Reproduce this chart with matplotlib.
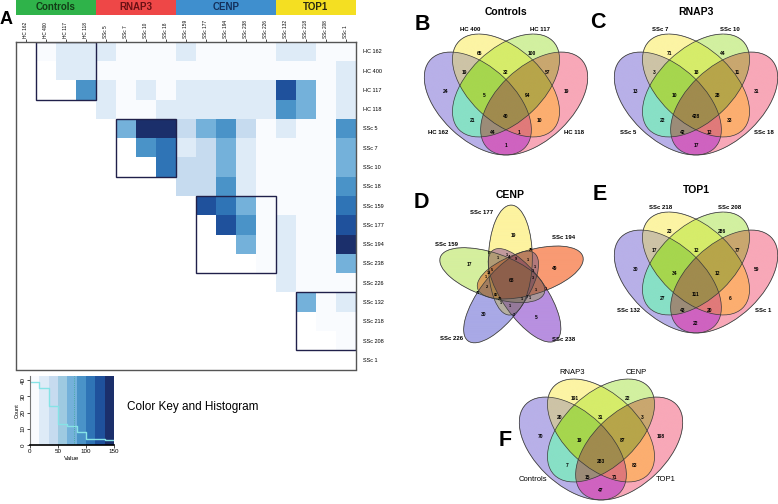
import numpy as np
import matplotlib.pyplot as plt
from matplotlib.patches import Ellipse, Rectangle
from matplotlib.colors import ListedColormap, BoundaryNorm, to_rgb

plt.rcParams['font.family'] = ['Liberation Sans', 'DejaVu Sans']

W, H = 778, 504

# --- heatmap data ---
samples = ["HC 162", "HC 400", "HC 117", "HC 118", "SSc 5", "SSc 7", "SSc 10", "SSc 18",
           "SSc 159", "SSc 177", "SSc 194", "SSc 238", "SSc 226", "SSc 132", "SSc 218",
           "SSc 208", "SSc 1"]
groups = ["Controls", "RNAP3", "CENP", "TOP1"]
group_sizes = [4, 4, 5, 4]

# upper triangle only: row i holds columns i+1 .. 16
upper_rows = [
    [8, 25, 25, 25, 8, 8, 8, 25, 8, 8, 8, 8, 25, 25, 5, 5],
    [25, 30, 5, 5, 5, 5, 12, 12, 12, 12, 12, 12, 12, 12, 25],
    [92, 25, 12, 25, 12, 25, 25, 25, 25, 25, 125, 75, 5, 25],
    [25, 12, 12, 25, 25, 25, 25, 25, 25, 92, 75, 5, 25],
    [75, 142, 142, 42, 75, 92, 42, 5, 25, 12, 5, 92],
    [88, 108, 25, 42, 75, 25, 5, 12, 5, 5, 75],
    [108, 42, 42, 75, 25, 5, 12, 12, 5, 75],
    [42, 42, 92, 25, 5, 12, 12, 5, 92],
    [125, 108, 75, 5, 12, 12, 5, 108],
    [125, 92, 5, 25, 12, 5, 125],
    [75, 5, 25, 12, 5, 142],
    [5, 25, 12, 5, 75],
    [25, 12, 5, 5],
    [75, 5, 25],
    [5, 12],
    [5],
]

key_breaks = np.linspace(0, 150, 10)
key_counts = [39, 35, 24, 13, 12, 8, 4, 4, 3]
key_colors = ['#f9fbfe', '#deebf7', '#c6dbef', '#9ecae1', '#74b1da',
              '#4a93c8', '#2f74b6', '#1f519c', '#1b2f6b']

# --- venn data ---
venn_regions = ['A', 'B', 'C', 'D', 'AB', 'BC', 'CD', 'ABC', 'BCD', 'ABCD',
                'AC', 'BD', 'ACD', 'ABD', 'AD']
controls_sets = ["HC 162", "HC 400", "HC 117", "HC 118"]
controls_counts = [24, 65, 100, 19, 19, 32, 57, 5, 94, 40, 21, 10, 44, 1, 1]
rnap3_sets = ["SSc 5", "SSc 7", "SSc 10", "SSc 18"]
rnap3_counts = [13, 71, 44, 31, 3, 18, 11, 10, 28, 428, 22, 33, 42, 12, 17]
top1_sets = ["SSc 132", "SSc 218", "SSc 208", "SSc 1"]
top1_counts = [30, 23, 286, 59, 17, 12, 77, 34, 12, 111, 27, 6, 43, 20, 22]
all_sets = ["Controls", "RNAP3", "CENP", "TOP1"]
all_counts = [70, 191, 22, 198, 20, 31, 3, 19, 87, 283, 7, 83, 15, 71, 47]

# CENP five-set venn, counts indexed by membership bitmask 1..31
cenp_sets = ["SSc 177", "SSc 194", "SSc 238", "SSc 226", "SSc 159"]
cenp_counts = [19, 49, 29, 5, 1, 3, 4, 30, 1, 1, 1, 2, 1, 3, 9,
               17, 8, 1, 13, 1, 1, 1, 5, 71, 20, 2, 86, 7, 1, 3, 68]

fig = plt.figure(figsize=(W / 100, H / 100), dpi=100)
fig.patch.set_facecolor('white')


def px_axes(x0, y0, x1, y1):
    return fig.add_axes([x0 / W, 1 - y1 / H, (x1 - x0) / W, (y1 - y0) / H])


def ftext(x, y, s, **kw):
    fig.text(x / W, 1 - y / H, s, **kw)


def membership(gx, gy, ells):
    # ells: (cx, cy, semi_a, semi_b, angle); returns normalised radius per ellipse
    out = []
    for cx, cy, a, b, ang in ells:
        t = np.deg2rad(ang)
        du = (gx - cx) * np.cos(t) + (gy - cy) * np.sin(t)
        dv = -(gx - cx) * np.sin(t) + (gy - cy) * np.cos(t)
        out.append(np.sqrt((du / a) ** 2 + (dv / b) ** 2))
    return out


def draw_venn(ax, ells, fills, xlim, ylim, region_colors=None):
    # fill every region (soft multiply of the set colours unless a colour is given)
    xs = np.linspace(xlim[0], xlim[1], 700)
    ys = np.linspace(ylim[0], ylim[1], 600)
    gx, gy = np.meshgrid(xs, ys)
    code = np.zeros(gx.shape, int)
    for k, q in enumerate(membership(gx, gy, ells)):
        code |= (q < 1).astype(int) << k
    rgba = np.zeros(gx.shape + (4,))
    for c in range(1, 2 ** len(ells)):
        sel = code == c
        if not sel.any():
            continue
        if region_colors and c in region_colors:
            col = np.array(to_rgb(region_colors[c]))
        else:
            members = [i for i in range(len(ells)) if c >> i & 1]
            col = np.prod([to_rgb(fills[i]) for i in members], axis=0)
            col = col ** (len(members) ** -0.3)
        rgba[sel, :3] = col
        rgba[sel, 3] = 1
    ax.imshow(rgba, extent=(xlim[0], xlim[1], ylim[0], ylim[1]),
              origin='lower', aspect='auto', interpolation='bilinear')
    for cx, cy, a, b, ang in ells:
        ax.add_patch(Ellipse((cx, cy), 2 * a, 2 * b, angle=ang, fill=False,
                             edgecolor='#3a3a3a', lw=0.5, clip_on=False))
    ax.set_xlim(*xlim)
    ax.set_ylim(*ylim)
    ax.axis('off')


# --- A: heatmap ---
n = len(samples)
M = np.full((n, n), np.nan)
for i, row in enumerate(upper_rows):
    M[i, i + 1:] = row

cmap = ListedColormap(key_colors)
norm = BoundaryNorm(key_breaks, cmap.N)

ax = px_axes(15.7, 41.7, 356, 369.5)
ax.pcolormesh(np.arange(n + 1), np.arange(n + 1), np.ma.masked_invalid(M),
              cmap=cmap, norm=norm)
ax.set_xlim(0, n)
ax.set_ylim(n, 0)
start = 0
for size in group_sizes:
    ax.add_patch(Rectangle((start + 1, start), size - 1, size - 1, fill=False,
                           edgecolor='#20204a', lw=1.0))
    start += size
ax.set_xticks(np.arange(n) + 0.5)
ax.set_xticklabels(samples, rotation=90, fontsize=3.4)
ax.xaxis.tick_top()
ax.tick_params(axis='x', length=2, width=0.5, pad=1)
ax.set_yticks(np.arange(n) + 0.5)
ax.set_yticklabels(samples, fontsize=4)
ax.yaxis.tick_right()
ax.tick_params(axis='y', length=0, pad=5)
for s in ax.spines.values():
    s.set_color('#555555')
    s.set_linewidth(1.0)

# group colour bar
group_colors = ['#2fb34a', '#ee4747', '#3f8fce', '#f4df22']
group_text = ['#123d16', '#6a1014', '#13305c', '#2b2a10']
axg = px_axes(15.7, 0, 356, 15)
axg.set_xlim(0, n)
axg.set_ylim(0, 1)
axg.axis('off')
start = 0
for g, size, col, tcol in zip(groups, group_sizes, group_colors, group_text):
    axg.add_patch(Rectangle((start, 0), size, 1, color=col, lw=0))
    axg.text(start + size / 2, 0.5, g, ha='center', va='center', fontsize=7,
             fontweight='bold', color=tcol)
    start += size

ftext(6, 19, "A", fontsize=13, fontweight='bold', ha='center', va='center')

# colour key and histogram
axk = px_axes(30, 376, 114, 445)
axk.bar(key_breaks[:-1], 42.5, width=np.diff(key_breaks), align='edge',
        color=key_colors, lw=0)
axk.step(key_breaks, key_counts + [key_counts[-1]], where='post', color='#86e3e6', lw=1)
axk.axvline(79, color='#3aa890', ls=':', lw=0.6)
axk.set_xlim(0, 150)
axk.set_ylim(0, 42.5)
axk.set_xticks([0, 50, 100, 150])
axk.set_yticks([0, 10, 20, 30, 40])
axk.set_yticklabels(['0', '10', '20', '30', '40'], rotation=90, va='center')
axk.tick_params(labelsize=4.5, length=2, width=0.5, pad=1)
axk.set_xlabel("Value", fontsize=4.5, labelpad=1)
axk.set_ylabel("Count", fontsize=4, labelpad=1)
for side in ['top', 'right']:
    axk.spines[side].set_visible(False)
axk.spines['left'].set_color('#777777')
axk.spines['bottom'].set_linewidth(1.2)
ftext(127, 407, "Color Key and Histogram", fontsize=8.5, ha='left', va='center')

# --- quad venns ---
quad_ellipses = [(0.35, 0.47, 0.35, 0.2, -45), (0.50, 0.57, 0.35, 0.2, -45),
                 (0.50, 0.57, 0.35, 0.2, 45), (0.65, 0.47, 0.35, 0.2, 45)]
quad_fills = ['#b8b0e8', '#fcf4a4', '#d2f0a0', '#f8a8b8']
quad_region_colors = {
    'A': '#b8b0e8', 'B': '#fcf4a4', 'C': '#d2f0a0', 'D': '#f8a8b8',
    'AB': '#cdc3a6', 'BC': '#d6ec6a', 'CD': '#c9a76f', 'ABC': '#a6d64e',
    'BCD': '#b7a54a', 'ABCD': '#a08b4e', 'AC': '#88e0c6', 'BD': '#fcae70',
    'ACD': '#9c8c78', 'ABD': '#e07a7a', 'AD': '#cf63c0'}
quad_codes = {k: sum(1 << 'ABCD'.index(ch) for ch in k) for k in venn_regions}
quad_colors_by_code = {quad_codes[k]: c for k, c in quad_region_colors.items()}
quad_label_pos = {
    'A': (0.18, 0.535), 'B': (0.36, 0.748), 'C': (0.64, 0.748), 'D': (0.82, 0.535),
    'AB': (0.28, 0.642), 'BC': (0.50, 0.642), 'CD': (0.72, 0.642),
    'ABC': (0.385, 0.513), 'BCD': (0.615, 0.513), 'ABCD': (0.50, 0.397),
    'AC': (0.32, 0.375), 'BD': (0.68, 0.375), 'ACD': (0.43, 0.311), 'ABD': (0.57, 0.311),
    'AD': (0.50, 0.236)}
quad_name_pos = [(0.14, 0.31), (0.31, 0.881), (0.68, 0.881), (0.86, 0.31)]


def quad_venn(left, top, names, counts, title=None, name_size=4.3, name_weight='bold',
              name_pos=quad_name_pos):
    ax = px_axes(left, top, left + 163.4, top + 121)
    draw_venn(ax, quad_ellipses, quad_fills, (0.065, 0.935), (0.185, 0.855),
              quad_colors_by_code)
    for key, v in zip(venn_regions, counts):
        x, y = quad_label_pos[key]
        ax.text(x, y, str(v), ha='center', va='center', fontsize=3.5, fontweight='bold')
    for (x, y), name in zip(name_pos, names):
        ax.text(x, y, name, ha='center', va='center', fontsize=name_size,
                fontweight=name_weight)
    if title:
        ax.text(0.5, 0.977, title, ha='center', va='center', fontsize=7.5,
                fontweight='bold')


quad_venn(424.3, 34, controls_sets, controls_counts, "Controls")
quad_venn(614.3, 34, rnap3_sets, rnap3_counts, "RNAP3")
quad_venn(614.3, 212, top1_sets, top1_counts, "TOP1")
quad_venn(519.3, 379, all_sets, all_counts, None, name_size=5.5, name_weight='normal',
          name_pos=[(0.14, 0.296), (0.344, 0.892), (0.69, 0.892), (0.846, 0.296)])

ftext(422, 24, "B", fontsize=15.5, fontweight='bold', ha='center', va='center')
ftext(598, 23, "C", fontsize=15.5, fontweight='bold', ha='center', va='center')
ftext(421, 202, "D", fontsize=15.5, fontweight='bold', ha='center', va='center')
ftext(600, 195, "E", fontsize=15.5, fontweight='bold', ha='center', va='center')
ftext(505, 440, "F", fontsize=15.5, fontweight='bold', ha='center', va='center')

# --- D: five-set venn (CENP), coordinates in pixels around the centre ---
P = (511.7, 280)
axd = px_axes(425, 188, 600, 350)
xlim_d = (425 - P[0], 600 - P[0])
ylim_d = (P[1] - 350, P[1] - 188)
five_fills = ['#fdf3a0', '#f99a73', '#b890e0', '#a9a9e6', '#d5ef9e']
ea, eb, ed, rho = 55, 22, 20, -5
ells = []
for k in range(5):
    phi = 94 - 72 * k
    t = np.deg2rad(phi)
    ells.append((ed * np.cos(t), ed * np.sin(t), ea, eb, phi + rho))
draw_venn(axd, ells, five_fills, xlim_d, ylim_d)

gx, gy = np.meshgrid(np.arange(-90, 90, 0.5), np.arange(-80, 90, 0.5))
code = np.zeros(gx.shape, int)
margin = np.full(gx.shape, np.inf)
for k, q in enumerate(membership(gx, gy, ells)):
    code |= (q < 1).astype(int) << k
    margin = np.minimum(margin, np.abs(q - 1) * eb)
for c, v in zip(range(1, 32), cenp_counts):
    m = np.where(code == c, margin, -1)
    idx = np.argmax(m)
    if m.flat[idx] > 0:
        fs = 3.5 if bin(c).count('1') in (1, 5) else 2.8
        axd.text(gx.flat[idx], gy.flat[idx], str(v), ha='center', va='center',
                 fontsize=fs, fontweight='bold')

cenp_name_pos = [(-30, 67.3), (51.6, 42.3), (51.6, -59.3), (-60, -58.3), (-65, 35)]
for (x, y), name in zip(cenp_name_pos, cenp_sets):
    axd.text(x, y, name, ha='center', va='center', fontsize=4.3, fontweight='bold')
axd.text(-1.7, 85, "CENP", ha='center', va='center', fontsize=7.5, fontweight='bold')

fig.savefig("out.png", dpi=100)
